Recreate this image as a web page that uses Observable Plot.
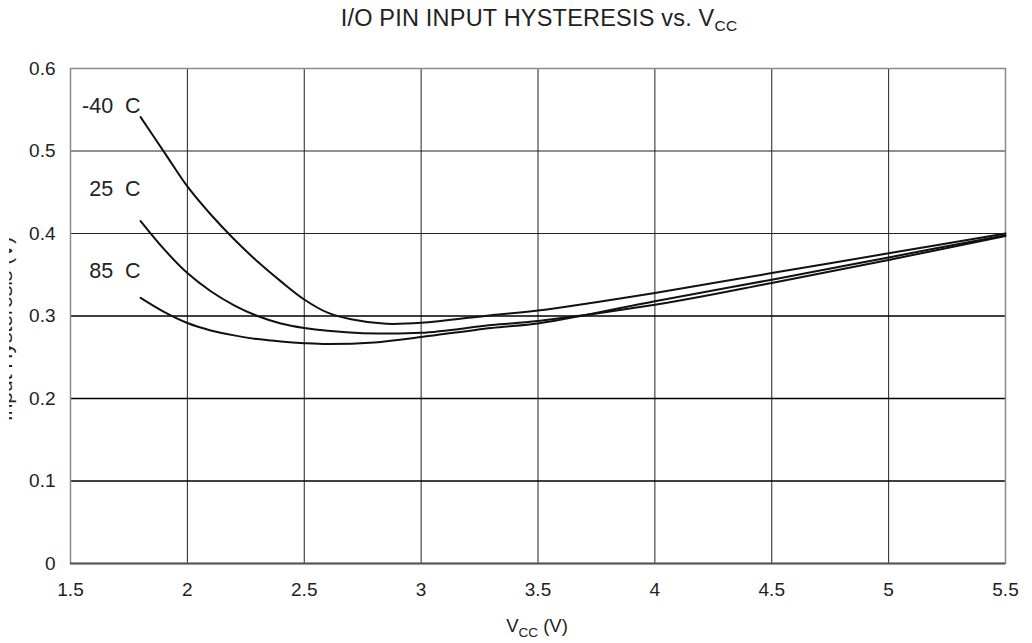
<!DOCTYPE html>
<html><head><meta charset="utf-8">
<script src="https://cdn.jsdelivr.net/npm/d3@7"></script>
<script src="https://cdn.jsdelivr.net/npm/@observablehq/plot@0.6"></script>
<style>
body{margin:0;background:#fff;font-family:"Liberation Sans",Arial,sans-serif;}
#title{height:46px;width:1032px;box-sizing:border-box;padding-left:70px;padding-right:24px;text-align:center;font-size:23.5px;letter-spacing:0.2px;line-height:36px;color:#222;overflow:hidden;}
#title sub{font-size:15.5px;vertical-align:baseline;position:relative;top:5px;line-height:0;}
#chart svg{display:block;}
</style></head><body>
<div id="title">I/O PIN INPUT HYSTERESIS vs. V<sub>CC</sub></div>
<div id="chart"></div>
<script>
// Series names
const seriesNames = ["-40 C", "25 C", "85 C"];
// -40 C
const vccM40  = [1.8, 1.9, 2.0, 2.1, 2.2, 2.3, 2.4, 2.5, 2.6, 2.7, 2.85, 3.0, 3.3, 3.5, 4.0, 4.5, 5.0, 5.5];
const hystM40 = [0.541, 0.499, 0.457, 0.423, 0.393, 0.366, 0.342, 0.320, 0.304, 0.296, 0.2905, 0.2917, 0.301, 0.3067, 0.328, 0.352, 0.376, 0.400];
// 25 C
const vcc25  = [1.8, 1.9, 2.0, 2.1, 2.2, 2.3, 2.4, 2.5, 2.6, 2.75, 3.0, 3.3, 3.5, 4.0, 4.5, 5.0, 5.5];
const hyst25 = [0.415, 0.381, 0.352, 0.330, 0.313, 0.300, 0.291, 0.2855, 0.282, 0.2792, 0.2796, 0.289, 0.294, 0.3135, 0.340, 0.368, 0.397];
// 85 C
const vcc85  = [1.8, 1.9, 2.0, 2.1, 2.2, 2.3, 2.4, 2.5, 2.6, 2.8, 3.0, 3.3, 3.5, 3.7, 4.0, 4.5, 5.0, 5.5];
const hyst85 = [0.322, 0.305, 0.2915, 0.2825, 0.2765, 0.272, 0.269, 0.267, 0.266, 0.268, 0.2745, 0.2855, 0.291, 0.301, 0.318, 0.344, 0.371, 0.398];
// Label anchor values for series labels
const labelVcc = [1.8, 1.8, 1.8];
const labelHyst = [0.5545, 0.454, 0.3545];
// Ticks
const xTicks = [1.5, 2, 2.5, 3, 3.5, 4, 4.5, 5, 5.5];
const yTicks = [0, 0.1, 0.2, 0.3, 0.4, 0.5, 0.6];
const xGrid = [2, 2.5, 3, 3.5, 4, 4.5, 5];
const yGridStrong = [0.1, 0.2, 0.3];
const yGridLight = [0.4, 0.5];

const seriesX = [vccM40, vcc25, vcc85];
const seriesY = [hystM40, hyst25, hyst85];
const rows = seriesNames.flatMap((s, i) => seriesX[i].map((v, j) => ({series: s, vcc: v, hyst: seriesY[i][j]})));
const labels = seriesNames.map((s, i) => ({series: s.replace(" ", "\u00a0\u00a0"), vcc: labelVcc[i], hyst: labelHyst[i]}));

const font = "'Liberation Sans', Arial, sans-serif";
const chart = Plot.plot({
  width: 1032, height: 597,
  marginLeft: 70, marginRight: 27, marginTop: 22, marginBottom: 80,
  style: {fontFamily: font, fontSize: "19px", color: "#222", background: "#fff"},
  x: {domain: [1.5, 5.5]},
  y: {domain: [0, 0.6]},
  marks: [
    Plot.ruleX(xGrid, {stroke: "#222", strokeWidth: 1}),
    Plot.ruleY(yGridLight, {stroke: "#222", strokeWidth: 1}),
    Plot.ruleY(yGridStrong, {stroke: "#000", strokeWidth: 1.6}),
    Plot.frame({stroke: "#8a8a8a", strokeWidth: 1.5}),
    Plot.ruleY([0], {stroke: "#555", strokeWidth: 2}),
    Plot.axisX({ticks: xTicks, tickSize: 0, tickPadding: 19, label: null, fontSize: 19, tickFormat: d => String(d)}),
    Plot.axisY({ticks: yTicks, tickSize: 0, tickPadding: 15, label: null, fontSize: 19, tickFormat: d => String(d)}),
    Plot.line(rows, {x: "vcc", y: "hyst", z: "series", curve: "catmull-rom", stroke: "#111", strokeWidth: 2}),
    Plot.text(labels, {x: "vcc", y: "hyst", text: "series", textAnchor: "end", dx: 0, fontSize: 21.5, fill: "#222"})
  ]
});
document.getElementById("chart").appendChild(chart);

const svg = d3.select(chart);
// x-axis label with subscript
const xl = svg.append("text")
  .attr("x", 537).attr("y", 586)
  .attr("text-anchor", "middle")
  .attr("fill", "#222")
  .style("font-family", font)
  .style("font-size", "18.5px");
xl.append("tspan").text("V");
xl.append("tspan").attr("dy", 5).style("font-size", "13.5px").text("CC");
xl.append("tspan").attr("dy", -5).text(" (V)");

// y-axis label, clipped at the left edge like the reference
const clip = svg.append("svg")
  .attr("x", 9).attr("y", 150).attr("width", 12).attr("height", 270)
  .attr("overflow", "hidden");
clip.append("text")
  .attr("transform", "translate(3,133) rotate(-90)")
  .attr("text-anchor", "middle")
  .attr("fill", "#222")
  .style("font-family", font)
  .style("font-size", "21px")
  .text("Input Hysteresis (V)");
</script>
</body></html>
